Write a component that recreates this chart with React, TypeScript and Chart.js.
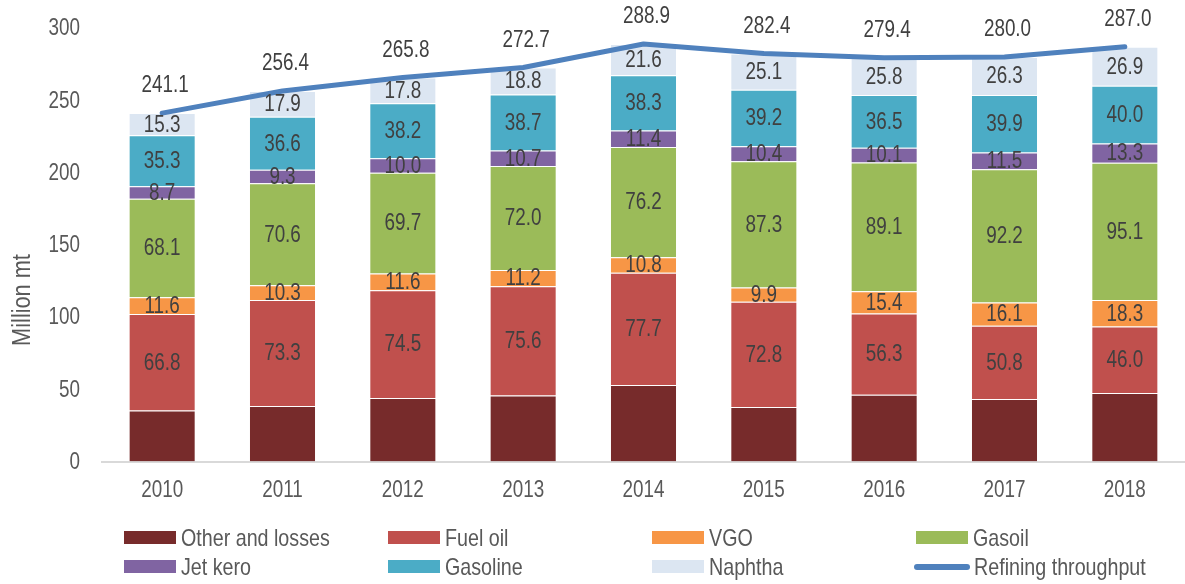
import React, { useEffect, useRef } from "react";
import { Chart, registerables } from "chart.js";

Chart.register(...registerables);

const categories = ["2010", "2011", "2012", "2013", "2014", "2015", "2016", "2017", "2018"];
const otherLosses = [35.3, 38.4, 44.0, 45.7, 52.9, 37.7, 46.2, 43.2, 47.4];
const fuelOil = [66.8, 73.3, 74.5, 75.6, 77.7, 72.8, 56.3, 50.8, 46.0];
const vgo = [11.6, 10.3, 11.6, 11.2, 10.8, 9.9, 15.4, 16.1, 18.3];
const gasoil = [68.1, 70.6, 69.7, 72.0, 76.2, 87.3, 89.1, 92.2, 95.1];
const jetKero = [8.7, 9.3, 10.0, 10.7, 11.4, 10.4, 10.1, 11.5, 13.3];
const gasoline = [35.3, 36.6, 38.2, 38.7, 38.3, 39.2, 36.5, 39.9, 40.0];
const naphtha = [15.3, 17.9, 17.8, 18.8, 21.6, 25.1, 25.8, 26.3, 26.9];
const throughput = [241.1, 256.4, 265.8, 272.7, 288.9, 282.4, 279.4, 280.0, 287.0];
const yTicks = [0, 50, 100, 150, 200, 250, 300];

const FONT = "'Liberation Sans', Arial, sans-serif";
const NARROW = 0.82;
const TICK_COLOR = "#595959";
const LABEL_COLOR = "#404040";

const barSeries = [
  { label: "Other and losses", data: otherLosses, color: "#772B2B", labels: false },
  { label: "Fuel oil", data: fuelOil, color: "#C0504D", labels: true },
  { label: "VGO", data: vgo, color: "#F79646", labels: true },
  { label: "Gasoil", data: gasoil, color: "#9BBB59", labels: true },
  { label: "Jet kero", data: jetKero, color: "#8064A2", labels: true },
  { label: "Gasoline", data: gasoline, color: "#4BACC6", labels: true },
  { label: "Naphtha", data: naphtha, color: "#DCE6F2", labels: true },
];
const lineSeries = { label: "Refining throughput", data: throughput, color: "#4F81BD" };

const legendItems = [
  { label: "Other and losses", color: "#772B2B", x: 124, y: 0, line: false },
  { label: "Fuel oil", color: "#C0504D", x: 388, y: 0, line: false },
  { label: "VGO", color: "#F79646", x: 652, y: 0, line: false },
  { label: "Gasoil", color: "#9BBB59", x: 916, y: 0, line: false },
  { label: "Jet kero", color: "#8064A2", x: 124, y: 1, line: false },
  { label: "Gasoline", color: "#4BACC6", x: 388, y: 1, line: false },
  { label: "Naphtha", color: "#DCE6F2", x: 652, y: 1, line: false },
  { label: "Refining throughput", color: "#4F81BD", x: 914, y: 1, line: true },
];

function narrowText(ctx: any, text: string, x: number, y: number, align: string, baseline: string) {
  ctx.save();
  ctx.translate(x, y);
  ctx.scale(NARROW, 1);
  ctx.textAlign = align;
  ctx.textBaseline = baseline;
  ctx.fillText(text, 0, 0);
  ctx.restore();
}

const labelPlugin = {
  id: "valueLabels",
  afterDatasetsDraw(chart: any) {
    const ctx = chart.ctx;
    ctx.save();
    ctx.font = `23px ${FONT}`;
    ctx.fillStyle = LABEL_COLOR;
    barSeries.forEach((s, di) => {
      if (!s.labels) return;
      const meta = chart.getDatasetMeta(di);
      meta.data.forEach((el: any, i: number) => {
        const cy = (el.y + el.base) / 2;
        narrowText(ctx, s.data[i].toFixed(1), el.x, cy + 1, "center", "middle");
      });
    });
    const lm = chart.getDatasetMeta(barSeries.length);
    lm.data.forEach((el: any, i: number) => {
      narrowText(ctx, lineSeries.data[i].toFixed(1), el.x + 3, el.y - 27, "center", "middle");
    });
    // axis tick labels
    ctx.fillStyle = TICK_COLOR;
    const xs = chart.scales.x;
    const ys = chart.scales.y;
    categories.forEach((c, i) => {
      narrowText(ctx, c, xs.getPixelForTick(i), 491, "center", "middle");
    });
    yTicks.forEach((v) => {
      narrowText(ctx, String(v), 80, ys.getPixelForValue(v) + 1, "right", "middle");
    });
    // y-axis title
    ctx.font = `26.5px ${FONT}`;
    ctx.translate(23, 300);
    ctx.rotate(-Math.PI / 2);
    narrowText(ctx, "Million mt", 0, 0, "center", "middle");
    ctx.restore();
  },
};

export default function App() {
  const ref = useRef<HTMLCanvasElement | null>(null);

  useEffect(() => {
    if (!ref.current) return;
    const datasets: any[] = barSeries.map((s) => ({
      type: "bar",
      label: s.label,
      data: s.data,
      backgroundColor: s.color,
      borderColor: "rgba(255,255,255,0.35)",
      borderWidth: 1,
      stack: "bars",
      order: 1,
      categoryPercentage: 1,
      barPercentage: 0.557,
    }));
    datasets.push({
      type: "line",
      label: lineSeries.label,
      data: lineSeries.data,
      borderColor: lineSeries.color,
      borderWidth: 5,
      pointRadius: 0,
      tension: 0,
      stack: "line",
      order: 0,
      borderCapStyle: "round",
      borderJoinStyle: "round",
    });
    const chart = new Chart(ref.current, {
      type: "bar",
      data: { labels: categories, datasets },
      options: {
        animation: false,
        responsive: false,
        maintainAspectRatio: false,
        layout: { padding: { top: 28, left: 0, right: 0, bottom: 0 } },
        plugins: { legend: { display: false }, tooltip: { enabled: false } },
        scales: {
          x: {
            stacked: true,
            grid: { display: false, drawTicks: false },
            border: { display: true, color: "#D9D9D9", width: 2 },
            ticks: { display: false },
            afterFit: (s: any) => {
              s.height = 122.5;
            },
          },
          y: {
            stacked: true,
            min: 0,
            max: 300,
            grid: { display: false, drawTicks: false },
            border: { display: false },
            ticks: { display: false, stepSize: 50 },
            afterFit: (s: any) => {
              s.width = 102;
            },
          },
        },
      },
      plugins: [labelPlugin],
    });
    return () => chart.destroy();
  }, []);

  return (
    <div style={{ position: "fixed", left: 0, top: 0, width: 1185, height: 584, background: "#fff" }}>
      <canvas ref={ref} width={1185} height={584} style={{ display: "block", width: 1185, height: 584 }} />
      {legendItems.map((it) => (
        <div
          key={it.label}
          style={{
            position: "absolute",
            left: it.x,
            top: it.y === 0 ? 522.5 : 551.5,
            height: 30,
            display: "flex",
            alignItems: "center",
            fontFamily: FONT,
            fontSize: 24,
            color: TICK_COLOR,
            whiteSpace: "nowrap",
          }}
        >
          <span
            style={{
              display: "inline-block",
              width: it.line ? 56 : 52,
              height: it.line ? 6 : 13,
              borderRadius: it.line ? 3 : 0,
              background: it.color,
              marginRight: it.line ? 4 : 5,
            }}
          />
          <span style={{ display: "inline-block", transform: `scaleX(${NARROW})`, transformOrigin: "left center" }}>
            {it.label}
          </span>
        </div>
      ))}
    </div>
  );
}
